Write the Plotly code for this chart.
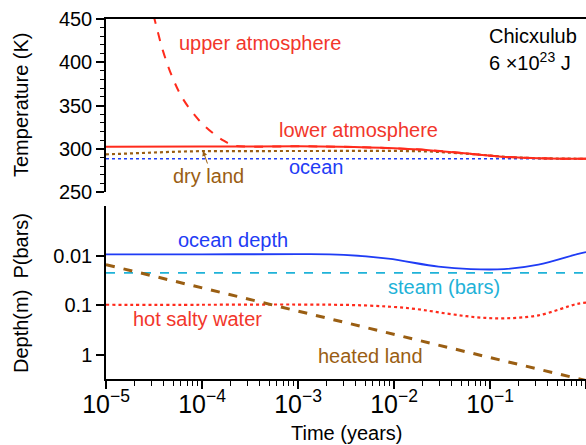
import plotly.graph_objects as go

# ---------------- data ----------------
# top panel: temperatures (K)
t_upper = [2.5e-5, 3.2e-5, 3.9e-5, 4.9e-5, 6.3e-5, 9.3e-5, 1.3e-4, 1.7e-4, 2.1e-4, 3e-4, 1e-3, 2.7e-3, 1e-2, 2.3e-2, 6.9e-2, 0.145, 0.32, 1.0]
T_upper = [495, 450, 414, 383, 358, 333, 318, 309, 304, 302.5, 302.8, 302.3, 300.5, 298.4, 293.7, 290.6, 289.0, 288.3]

t_lower = [1e-5, 1e-4, 1e-3, 2.7e-3, 1e-2, 2.3e-2, 6.9e-2, 0.145, 0.32, 1.0]
T_lower = [302.3, 302.5, 302.8, 302.3, 300.5, 298.4, 293.7, 290.6, 289.0, 288.3]

t_dry = [1e-5, 2e-5, 5e-5, 1e-4, 1e-3, 1e-2, 2.3e-2, 6.9e-2, 0.145, 0.32, 1.0]
T_dry = [293.5, 295.0, 296.5, 297.3, 297.6, 297.5, 297.0, 293.7, 290.6, 289.0, 288.3]

t_ocean = [1e-5, 1e-3, 1e-1, 1.0]
T_ocean = [288.5, 288.5, 288.4, 288.3]

# bottom panel: depth (m) / pressure (bars)
t_odepth = [1e-5, 1e-4, 1e-3, 3e-3, 8.7e-3, 2.9e-2, 6.3e-2, 0.14, 0.32, 0.81, 1.0]
d_odepth = [0.0094, 0.0094, 0.0093, 0.0096, 0.0115, 0.0166, 0.0186, 0.0186, 0.0151, 0.0093, 0.0085]

t_steam = [1e-5, 1e-3, 1e-1, 1.0]
p_steam = [0.0222, 0.0222, 0.0222, 0.0222]

t_salty = [1e-5, 1e-4, 1e-3, 5e-3, 1.5e-2, 3.5e-2, 7e-2, 0.14, 0.32, 0.81, 1.0]
d_salty = [0.097, 0.097, 0.096, 0.1, 0.115, 0.145, 0.172, 0.182, 0.158, 0.093, 0.088]

t_land = [1e-5, 1e-4, 1e-3, 1e-2, 1e-1, 1.0]
d_land = [0.0151, 0.0447, 0.129, 0.38, 1.12, 3.24]

T_ticks = [250, 300, 350, 400, 450]
D_ticks = [0.01, 0.1, 1]
D_ticklabels = ["0.01", "0.1", "1"]

# ---------------- styling ----------------
RED = "#ff2b1c"
RED_TXT = "#f2362b"
BLUE = "#1f3cf5"
CYAN = "#1fb2d8"
BROWN = "#9a5e12"
FONT = "Liberation Sans, Arial, Helvetica, sans-serif"
FS = 20

W, H = 586, 445
ML, MR, MT, MB = 106, 0, 19, 66
PW, PH = W - ML - MR, H - MT - MB


def px(x):
    return (x - ML) / PW


def py(y):
    return (H - MB - y) / PH


fig = go.Figure()

# top panel (x2, y2)
fig.add_trace(go.Scatter(x=t_ocean, y=T_ocean, mode="lines", xaxis="x2", yaxis="y2",
                         line=dict(color=BLUE, width=1.5, dash="dot")))
fig.add_trace(go.Scatter(x=t_dry, y=T_dry, mode="lines", xaxis="x2", yaxis="y2",
                         line=dict(color=BROWN, width=2.2, dash="dot")))
fig.add_trace(go.Scatter(x=t_upper, y=T_upper, mode="lines", xaxis="x2", yaxis="y2",
                         line=dict(color=RED, width=2, dash="dash", shape="spline")))
fig.add_trace(go.Scatter(x=t_lower, y=T_lower, mode="lines", xaxis="x2", yaxis="y2",
                         line=dict(color=RED, width=2, shape="spline")))

# bottom panel (x, y)
fig.add_trace(go.Scatter(x=t_steam, y=p_steam, mode="lines",
                         line=dict(color=CYAN, width=1.8, dash="dash")))
fig.add_trace(go.Scatter(x=t_salty, y=d_salty, mode="lines",
                         line=dict(color=RED, width=2.2, dash="dot", shape="spline")))
fig.add_trace(go.Scatter(x=t_odepth, y=d_odepth, mode="lines",
                         line=dict(color=BLUE, width=1.8, shape="spline")))
fig.add_trace(go.Scatter(x=t_land, y=d_land, mode="lines",
                         line=dict(color=BROWN, width=3, dash="dash")))

axis_common = dict(showgrid=False, zeroline=False, showline=True, linecolor="black",
                   linewidth=1.5, ticks="outside", ticklen=8, tickwidth=1.5, tickcolor="black",
                   automargin=False,
                   tickfont=dict(family=FONT, size=FS, color="black"))

fig.update_layout(
    width=W, height=H,
    margin=dict(l=ML, r=MR, t=MT, b=MB),
    paper_bgcolor="white", plot_bgcolor="white",
    showlegend=False,
    font=dict(family=FONT, size=FS, color="black"),
    xaxis=dict(type="log", range=[-5, 0], dtick=1, exponentformat="power",
               domain=[0, 1], anchor="y", ticklabelstandoff=-5,
               minor=dict(ticks="outside", ticklen=5, tickwidth=1.2, tickcolor="black", dtick="D1"),
               **axis_common),
    yaxis=dict(type="log", range=[0.48, -3], tickvals=D_ticks, ticktext=D_ticklabels,
               domain=[0, 173 / PH], anchor="x", **axis_common),
    xaxis2=dict(type="log", range=[-5, 0], matches="x", anchor="y2", side="top",
                showgrid=False, zeroline=False, showline=True, linecolor="black", linewidth=1.5,
                ticks="", showticklabels=False, automargin=False),
    yaxis2=dict(range=[250, 450], tickvals=T_ticks, domain=[1 - 173 / PH, 1], anchor="x2",
                minor=dict(ticks="outside", ticklen=4, tickwidth=1.2, tickcolor="black", dtick=10),
                **axis_common),
)

ann = []


def label(text, x, y, color, xanchor="center"):
    ann.append(dict(text=text, x=px(x), y=py(y), xref="paper", yref="paper",
                    xanchor=xanchor, yanchor="middle", showarrow=False,
                    font=dict(family=FONT, size=FS, color=color)))


label("upper atmosphere", 260, 43, RED_TXT)
label("lower atmosphere", 358, 130, RED_TXT)
label("ocean", 316, 167, BLUE)
label("dry land", 208, 176, BROWN)
label("Chicxulub", 487, 36, "black", xanchor="left")
label("6 ×10<sup>23</sup> J", 487, 61, "black", xanchor="left")
label("ocean depth", 233, 240, BLUE)
label("steam (bars)", 444, 287, CYAN)
label("hot salty water", 197, 319, RED_TXT)
label("heated land", 370, 356, BROWN)

# arrow from "dry land" to its curve
ann.append(dict(text="", x=px(203), y=py(151), xref="paper", yref="paper",
                ax=5, ay=14, showarrow=True, arrowhead=2, arrowsize=1, arrowwidth=1,
                arrowcolor=BROWN))

# axis titles
ann.append(dict(text="Temperature (K)", x=px(21), y=py(105), xref="paper", yref="paper",
                textangle=-90, showarrow=False, xanchor="center", yanchor="middle",
                font=dict(family=FONT, size=FS, color="black")))
ann.append(dict(text="Depth(m)  P(bars)", x=px(21), y=py(293), xref="paper", yref="paper",
                textangle=-90, showarrow=False, xanchor="center", yanchor="middle",
                font=dict(family=FONT, size=FS, color="black")))
ann.append(dict(text="Time (years)", x=px(346), y=py(433), xref="paper", yref="paper",
                showarrow=False, xanchor="center", yanchor="middle",
                font=dict(family=FONT, size=FS, color="black")))

fig.update_layout(annotations=ann)
fig.write_html("out.html", config={"displayModeBar": False},
               post_script="document.body.style.margin='0';document.body.style.overflow='hidden';")
